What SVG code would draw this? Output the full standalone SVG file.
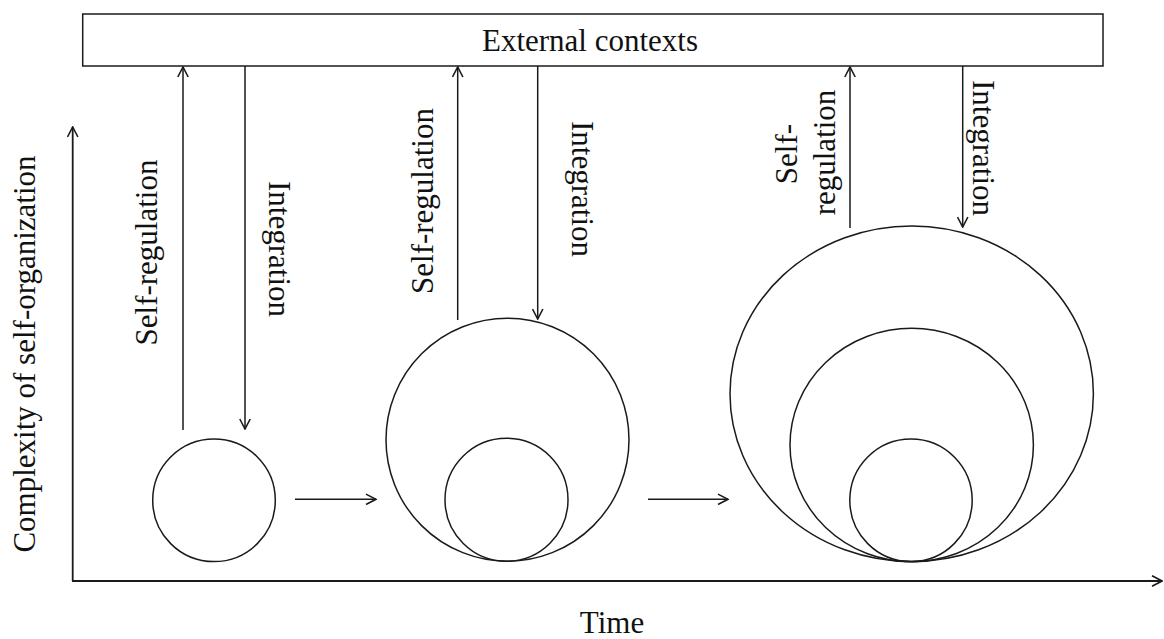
<svg xmlns="http://www.w3.org/2000/svg" width="1164" height="639" viewBox="0 0 1164 639">
  <style>
    .ln { stroke: #1a1a1a; stroke-width: 1.5; fill: none; }
    .ax { stroke: #1a1a1a; stroke-width: 1.8; fill: none; }
    .lbl { font-family: "Liberation Serif", "Times New Roman", serif; font-size: 31px; fill: #111; }
  </style>
  <defs>
    <marker id="arrow" markerUnits="userSpaceOnUse" viewBox="0 0 12 12" refX="11" refY="6" markerWidth="12" markerHeight="12" orient="auto">
      <path d="M1,0.8 L11,6 L1,11.2" fill="none" stroke="#1a1a1a" stroke-width="1.6"/>
    </marker>
  </defs>

  <rect width="1164" height="639" fill="#fff"/>

  <!-- axes -->
  <g id="axes">
    <path class="ax" d="M72.7,581 L72.7,127" marker-end="url(#arrow)"/>
    <path class="ax" d="M72,581 L1162,581" marker-end="url(#arrow)"/>
    <text class="lbl" text-anchor="middle" transform="translate(35,354) rotate(-90)">Complexity of self-organization</text>
    <text class="lbl" x="612" y="633" text-anchor="middle">Time</text>
  </g>

  <!-- environment box -->
  <g id="external-contexts">
    <rect class="ln" x="82.7" y="14" width="1020.3" height="52"/>
    <text class="lbl" x="590" y="51" text-anchor="middle">External contexts</text>
  </g>

  <!-- stage 1 -->
  <g id="stage-1">
    <circle class="ln" cx="214" cy="500.3" r="61.3"/>
  </g>

  <!-- stage 2 -->
  <g id="stage-2">
    <circle class="ln" cx="507.5" cy="439.7" r="121.5"/>
    <circle class="ln" cx="506.5" cy="499.7" r="61.5"/>
  </g>

  <!-- stage 3 -->
  <g id="stage-3">
    <ellipse class="ln" cx="911.7" cy="393.8" rx="181.7" ry="167.8"/>
    <ellipse class="ln" cx="911.7" cy="445" rx="121.7" ry="116.7"/>
    <ellipse class="ln" cx="911" cy="500.3" rx="61.2" ry="61.3"/>
  </g>

  <!-- exchange arrows and progression arrows -->
  <g id="connectors">
    <path class="ln" d="M183,430 L183,67" marker-end="url(#arrow)"/>
    <path class="ln" d="M245,66 L245,429" marker-end="url(#arrow)"/>
    <path class="ln" d="M457.7,320 L457.7,67" marker-end="url(#arrow)"/>
    <path class="ln" d="M537.7,66 L537.7,319" marker-end="url(#arrow)"/>
    <path class="ln" d="M850,228 L850,67" marker-end="url(#arrow)"/>
    <path class="ln" d="M962.7,66 L962.7,227" marker-end="url(#arrow)"/>
    <path class="ln" d="M295,499.3 L376,499.3" marker-end="url(#arrow)"/>
    <path class="ln" d="M648,499.3 L728,499.3" marker-end="url(#arrow)"/>
  </g>

  <!-- connector labels -->
  <g id="labels">
    <text class="lbl" text-anchor="middle" transform="translate(157,252.5) rotate(-90)">Self-regulation</text>
    <text class="lbl" text-anchor="middle" transform="translate(269,249) rotate(90)">Integration</text>
    <text class="lbl" text-anchor="middle" transform="translate(433,201) rotate(-90)">Self-regulation</text>
    <text class="lbl" text-anchor="middle" transform="translate(572,189) rotate(90)">Integration</text>
    <text class="lbl" text-anchor="middle" transform="translate(797,154) rotate(-90)">Self-</text>
    <text class="lbl" text-anchor="middle" transform="translate(835,152.5) rotate(-90)">regulation</text>
    <text class="lbl" text-anchor="middle" transform="translate(973,148) rotate(90)">Integration</text>
  </g>
</svg>
